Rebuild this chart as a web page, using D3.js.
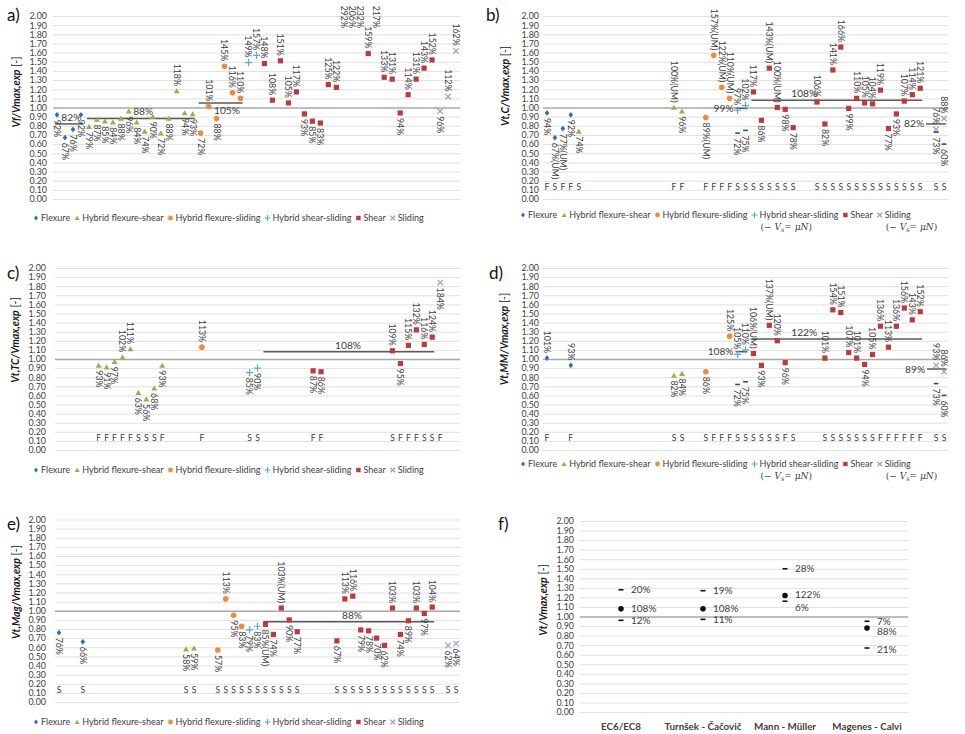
<!DOCTYPE html>
<html><head><meta charset="utf-8">
<script src="https://cdn.jsdelivr.net/npm/d3@7/dist/d3.min.js"></script>
<style>
html,body{margin:0;padding:0;background:#fff}
svg{display:block}
</style></head>
<body>
<svg width="965" height="734"></svg>
<script>
// ================= DATA =================
const specimens = d3.range(51);           // specimen positions along x
const typeNames = ["Flexure","Hybrid flexure-shear","Hybrid flexure-sliding","Hybrid shear-sliding","Shear","Sliding"];
const typeCounts = [4,14,6,2,22,3];       // experimental failure mode, specimens in order
const yTickValues = [0.00,0.10,0.20,0.30,0.40,0.50,0.60,0.70,0.80,0.90,1.00,1.10,1.20,1.30,1.40,1.50,1.60,1.70,1.80,1.90,2.00];

// a) Vf/Vmax,exp
const aVals = [0.92,0.67,0.76,0.92,
  0.79,0.87,0.85,0.84,0.88,0.96,0.84,0.74,0.90,0.72,0.88,1.18,0.94,0.93,
  0.72,1.01,0.88,1.45,1.16,1.10,
  1.49,1.57,
  1.48,1.08,1.51,1.05,1.17,0.93,0.85,0.83,1.25,1.22,2.92,2.06,2.32,1.59,2.17,1.33,1.31,0.94,1.14,1.31,1.43,1.52,
  0.96,1.12,1.62];
const aAvg = [[0,3,0.82],[4,17,0.88],[18,23,1.05]];

// b) Vt,C/Vmax,exp
const bVals = [0.94,0.67,0.77,0.92,0.74,
  null,null,null,null,null,null,null,null,null,null,null,
  1.00,0.96,null,null,
  0.89,1.57,1.22,1.10,
  0.97,1.02,
  1.17,0.86,1.43,1.00,0.98,0.78,null,null,1.06,0.82,1.41,1.66,0.99,1.10,1.05,1.04,1.19,0.77,0.93,1.07,1.14,1.21,
  null,0.76,0.88];
const bUM = [1,2,16,20,21,22,23,28,29];
const bDashIdx = [24,25,49,50];
const bDashVals = [0.72,0.75,0.73,0.60];
const bModes = "FSFFS...........FF..FFFFSSSSSSSS..SSSSSSSSSSSSSS.SS";
const bAvg = [[24,25,0.99],[26,47,1.08],[49,50,0.82]];

// c) Vt,TC/Vmax,exp
const cVals = [null,null,null,null,null,
  0.93,0.91,0.97,1.02,1.11,0.63,0.56,0.68,0.93,
  null,null,null,null,
  1.13,null,null,null,null,null,
  0.85,0.90,
  null,null,null,null,null,null,0.87,0.86,null,null,null,null,null,null,null,null,1.09,0.95,1.15,1.32,1.16,1.24,
  1.84,null,null];
const cModes = ".....FFFFFSSSF....F.....SS......FF........SFFFSSF..";
const cAvg = [[26,47,1.08]];

// d) Vt,MM/Vmax,exp
const dVals = [1.01,null,null,0.93,
  null,null,null,null,null,null,null,null,null,null,null,null,0.82,0.84,
  null,null,0.86,null,null,1.25,
  1.05,1.10,
  1.06,0.93,1.37,1.20,0.96,null,null,null,null,1.01,1.54,1.51,1.07,1.01,0.94,1.05,1.36,1.13,1.36,1.56,1.43,1.52,
  null,0.93,0.86];
const dUM = [26,28];
const dDashIdx = [24,25,49,50];
const dDashVals = [0.72,0.75,0.73,0.60];
const dModes = "F..F............SS..SFFFSSSSSSFS...SSSSSSSFFFFFF.SS";
const dAvg = [[24,25,1.08],[26,47,1.22],[49,50,0.89]];

// e) Vt,Mag/Vmax,exp
const eVals = [0.76,null,null,0.66,
  null,null,null,null,null,null,null,null,null,null,null,null,0.58,0.59,
  null,null,0.57,1.13,0.95,0.83,
  0.79,0.83,
  0.85,0.74,1.03,0.90,0.77,null,null,null,null,0.67,1.13,1.16,0.79,0.78,0.70,0.62,1.03,0.74,0.89,1.03,0.97,1.04,
  null,0.62,0.64];
const eUM = [26,28];
const eModes = "S..S............SS..SSSSSSSSSSS....SSSSSSSSSSSSS.SS";
const eAvg = [[26,47,0.88]];

// f) summary
const fCategories = ["EC6/EC8","Turnšek - Čačovič","Mann - Müller","Magenes - Calvi"];
const fMean  = [1.08,1.08,1.22,0.88];
const fPlus  = [0.20,0.19,0.28,0.07];
const fMinus = [0.12,0.11,0.06,0.21];

// ================= RENDER =================
const svg = d3.select("svg");
const FONT = "Lato, 'Open Sans', 'Liberation Sans', sans-serif";
const TXT = "#404040";
const specimenType = typeCounts.flatMap((n,k)=>Array(n).fill(typeNames[k]));

const T = {
  diamond:{draw(c,r){c.moveTo(0,-r*1.25);c.lineTo(r,0);c.lineTo(0,r*1.25);c.lineTo(-r,0);c.closePath();}},
  triangle:{draw(c,r){c.moveTo(0,-r*1.05);c.lineTo(r*1.15,r*0.9);c.lineTo(-r*1.15,r*0.9);c.closePath();}},
  circle:{draw(c,r){c.moveTo(r,0);c.arc(0,0,r,0,2*Math.PI);}},
  square:{draw(c,r){c.rect(-r,-r,2*r,2*r);}},
  plus:{draw(c,r){c.moveTo(-r,0);c.lineTo(r,0);c.moveTo(0,-r);c.lineTo(0,r);}},
  times:{draw(c,r){c.moveTo(-r,-r);c.lineTo(r,r);c.moveTo(r,-r);c.lineTo(-r,r);}},
  dash:{draw(c,r){c.rect(-r,-0.8,2*r,1.6);}}
};
const mk = {
  "Flexure":               {t:T.diamond, r:2.3, color:"#2e6fb7", fill:true},
  "Hybrid flexure-shear":  {t:T.triangle,r:2.6, color:"#8db548", fill:true},
  "Hybrid flexure-sliding":{t:T.circle,  r:2.8, color:"#f08a3c", fill:true},
  "Hybrid shear-sliding":  {t:T.plus,    r:3.6, color:"#4bb0d6", fill:false},
  "Shear":                 {t:T.square,  r:2.6, color:"#be3a3a", fill:true},
  "Sliding":               {t:T.times,   r:2.7, color:"#a797c8", fill:false}
};
function drawMarker(sel, type, X, Y, scale=1){
  const m = mk[type];
  const p = sel.append("path").attr("d", d3.symbol().type(m.t).size(m.r*scale)())
    .attr("transform",`translate(${X},${Y})`);
  if(m.fill) p.attr("fill",m.color); else p.attr("fill","none").attr("stroke",m.color).attr("stroke-width",1.2);
  return p;
}

function yAxisGrid(g, y, x0, x1, pad){
  const ax = g.append("g").attr("transform",`translate(${x0},0)`)
    .call(d3.axisLeft(y).tickValues(yTickValues).tickFormat(d3.format(".2f")).tickSize(-(x1-x0)).tickPadding(pad));
  ax.select(".domain").remove();
  ax.selectAll(".tick line").attr("stroke",d=>d===1?"#a8a8a8":"#e0e0e0").attr("stroke-width",d=>d===1?1.6:1);
  ax.selectAll(".tick").filter(d=>d===1).raise();
  ax.selectAll(".tick text").attr("fill",TXT).attr("font-size",8.9).attr("font-family",FONT);
  return ax;
}

function yTitle(g, X, Y, main){
  const t = g.append("text").attr("transform",`translate(${X},${Y}) rotate(-90)`)
    .attr("text-anchor","middle").attr("font-family",FONT).attr("font-size",10.5).attr("fill","#1a1a1a");
  t.append("tspan").attr("font-weight","bold").attr("font-style","italic").text(main);
  t.append("tspan").text(" [-]");
}

function panelLabel(X,Y,txt){
  svg.append("text").attr("x",X).attr("y",Y).attr("font-family",FONT).attr("font-size",17).attr("fill","#111").text(txt);
}

function legend(g, X, Y, withNote){
  let x = X;
  typeNames.forEach(name=>{
    drawMarker(g, name, x, Y, 0.85);
    const t = g.append("text").attr("x",x+5).attr("y",Y+3.3).attr("font-family",FONT).attr("font-size",9)
      .attr("fill",TXT).text(name);
    const w = t.node().getComputedTextLength();
    if(withNote && (name==="Hybrid shear-sliding" || name==="Sliding")){
      const n = g.append("text").attr("x",x+6).attr("y",Y+14.5).attr("font-family","'DejaVu Serif','Liberation Serif',serif")
        .attr("font-size",9).attr("fill",TXT);
      n.append("tspan").text("(− ");
      n.append("tspan").attr("font-style","italic").text("V");
      n.append("tspan").attr("font-size",6.5).attr("dy",2).attr("font-style","italic").text("s");
      n.append("tspan").attr("dy",-2).text("= ");
      n.append("tspan").attr("font-style","italic").text("μN");
      n.append("tspan").text(")");
    }
    x += 5 + w + 7;
  });
}

function scatterPanel(cfg){
  const {x0,x1,yTop,yBot} = cfg;
  const g = svg.append("g");
  const x = d3.scaleBand().domain(specimens).range([x0,x1]);
  const bw = x.bandwidth();
  const cx = i => x(i) + bw/2;
  const cxf = f => x0 + (f+0.5)*bw;
  const y = d3.scaleLinear().domain([0,2]).range([yBot,yTop]);
  yAxisGrid(g, y, x0, x1, cfg.pad);
  panelLabel(cfg.lx, cfg.ly, cfg.label);
  yTitle(g, cfg.tx, cfg.ty, cfg.title);

  // failure mode letters
  if(cfg.modes){
    specimens.filter(i=>cfg.modes[i] && cfg.modes[i]!==".").forEach(i=>{
      g.append("text").attr("x",cx(i)).attr("y",y(0.135)).attr("dy","0.35em").attr("text-anchor","middle")
        .attr("font-family",FONT).attr("font-size",8.6).attr("fill",TXT).text(cfg.modes[i]);
    });
  }
  // average lines
  cfg.avg.forEach((a,k)=>{
    const L = cfg.avgLayout[k];
    const xa = cx(a[0]) - (L.ext||2), xb = cx(a[1]) + 2, yy = y(a[2]);
    g.append("line").attr("x1",xa).attr("x2",xb).attr("y1",yy).attr("y2",yy)
      .attr("stroke","#5a5a5a").attr("stroke-width",1.5);
    const txt = Math.round(a[2]*100)+"%";
    const t = g.append("text").attr("font-family",FONT).attr("font-size",10.2).attr("fill",TXT).text(txt);
    if(L.mode==="above") t.attr("x",cxf(L.at)).attr("y",yy-3).attr("text-anchor","middle");
    else if(L.mode==="below") t.attr("x",cxf(L.at)).attr("y",yy+11).attr("text-anchor","middle");
    else t.attr("x",xa-2).attr("y",yy+3.5).attr("text-anchor","end");
  });
  // points
  const um = cfg.um||[], flips = cfg.flips||[];
  const pts = specimens.filter(i=>cfg.vals[i]!=null);
  pts.forEach(i=>{
    const v = cfg.vals[i], type = specimenType[i];
    const X = cx(i);
    const lbl = Math.round(v*100)+"%"+(um.includes(i)?"(UM)":"");
    let above = (v>=1) !== flips.includes(i);
    let ty, anchor;
    if(v>2){ ty = yTop+12; anchor="end"; }
    else {
      drawMarker(g, type, X, y(v));
      ty = above ? y(v)-5 : y(v)+5; anchor = above?"end":"start";
    }
    g.append("text").attr("transform",`translate(${X},${ty}) rotate(90)`).attr("text-anchor",anchor)
      .attr("dy","0.35em").attr("font-family",FONT).attr("font-size",8.8).attr("fill",TXT).text(lbl);
  });
  // V_s = muN dashes
  if(cfg.dashIdx){
    cfg.dashIdx.forEach((i,k)=>{
      const v = cfg.dashVals[k], X = cx(i);
      g.append("path").attr("d",d3.symbol().type(T.dash).size(2.3)()).attr("transform",`translate(${X},${y(v)})`)
        .attr("fill","#1f4e8c");
      g.append("text").attr("transform",`translate(${X},${y(v)+5}) rotate(90)`).attr("text-anchor","start")
        .attr("dy","0.35em").attr("font-family",FONT).attr("font-size",8.8).attr("fill",TXT).text(Math.round(v*100)+"%");
    });
  }
  legend(g, cfg.legX, cfg.legY, cfg.note);
}

scatterPanel({label:"a)", lx:7, ly:21, title:"Vf/Vmax,exp", tx:20, ty:92,
  x0:53, x1:460, yTop:16, yBot:199, pad:6, vals:aVals, avg:aAvg,
  avgLayout:[{mode:"above",at:1.8},{mode:"above",at:10.8},{mode:"below",at:21.3}],
  legX:36, legY:218});
scatterPanel({label:"b)", lx:486, ly:21, title:"Vt,C/Vmax,exp", tx:509, ty:86,
  x0:543, x1:948, yTop:16, yBot:199, pad:4, vals:bVals, um:bUM, dashIdx:bDashIdx, dashVals:bDashVals,
  modes:bModes, avg:bAvg, flips:[24,49,50],
  avgLayout:[{mode:"left"},{mode:"above",at:32.4},{mode:"left",ext:10}],
  legX:523, legY:215, note:true});
scatterPanel({label:"c)", lx:7, ly:279, title:"Vt,TC/Vmax,exp", tx:19, ty:340,
  x0:55, x1:460, yTop:268, yBot:450, pad:9, vals:cVals, modes:cModes, avg:cAvg, flips:[48],
  avgLayout:[{mode:"above",at:36.4}],
  legX:36, legY:470});
scatterPanel({label:"d)", lx:489, ly:279, title:"Vt,MM/Vmax,exp", tx:508, ty:339,
  x0:543, x1:948, yTop:268, yBot:450, pad:4, vals:dVals, um:dUM, dashIdx:dDashIdx, dashVals:dDashVals,
  modes:dModes, avg:dAvg, flips:[3,49,50],
  avgLayout:[{mode:"left"},{mode:"above",at:32.4},{mode:"left",ext:9}],
  legX:523, legY:464, note:true});
scatterPanel({label:"e)", lx:7, ly:530, title:"Vt,Mag/Vmax,exp", tx:20, ty:592,
  x0:55, x1:460, yTop:519.5, yBot:702, pad:9, vals:eVals, um:eUM, modes:eModes, avg:eAvg,
  avgLayout:[{mode:"above",at:36.9}],
  legX:36, legY:722});

// ---- panel f ----
(function(){
  const x0=580, x1=908, yTop=521, yBot=712;
  const g = svg.append("g");
  const x = d3.scaleBand().domain(fCategories).range([x0,x1]);
  const y = d3.scaleLinear().domain([0,2]).range([yBot,yTop]);
  yAxisGrid(g, y, x0, x1, 6);
  panelLabel(498, 530, "f)");
  yTitle(g, 547, 600, "Vt/Vmax,exp");
  const xa = g.append("g").attr("transform",`translate(0,${yBot+7})`).call(d3.axisBottom(x).tickSize(0).tickPadding(4));
  xa.select(".domain").remove();
  xa.selectAll("text").attr("font-family",FONT).attr("font-size",9.8).attr("font-weight","bold").attr("fill",TXT);
  // label nudges in px: [upper, lower, mean]
  const shift = {"Mann - Müller":[0,6,-1],"Magenes - Calvi":[0,1,4]};
  fCategories.forEach((c,k)=>{
    const X = x(c)+x.bandwidth()/2;
    const m = fMean[k], up = m+fPlus[k], lo = m-fMinus[k];
    const sh = shift[c]||[0,0,0];
    [[up,fPlus[k],sh[0]],[lo,fMinus[k],sh[1]]].forEach(([v,dv,s])=>{
      g.append("path").attr("d",d3.symbol().type(T.dash).size(2.5)()).attr("transform",`translate(${X},${y(v)})`).attr("fill","#111");
      g.append("text").attr("x",X+10).attr("y",y(v)+s).attr("dy","0.35em").attr("font-family",FONT)
        .attr("font-size",10).attr("fill",TXT).text(Math.round(dv*100)+"%");
    });
    g.append("circle").attr("cx",X).attr("cy",y(m)).attr("r",2.8).attr("fill","#111");
    g.append("text").attr("x",X+10).attr("y",y(m)+sh[2]).attr("dy","0.35em").attr("font-family",FONT)
      .attr("font-size",10).attr("fill",TXT).text(Math.round(m*100)+"%");
  });
})();
</script>
</body></html>
